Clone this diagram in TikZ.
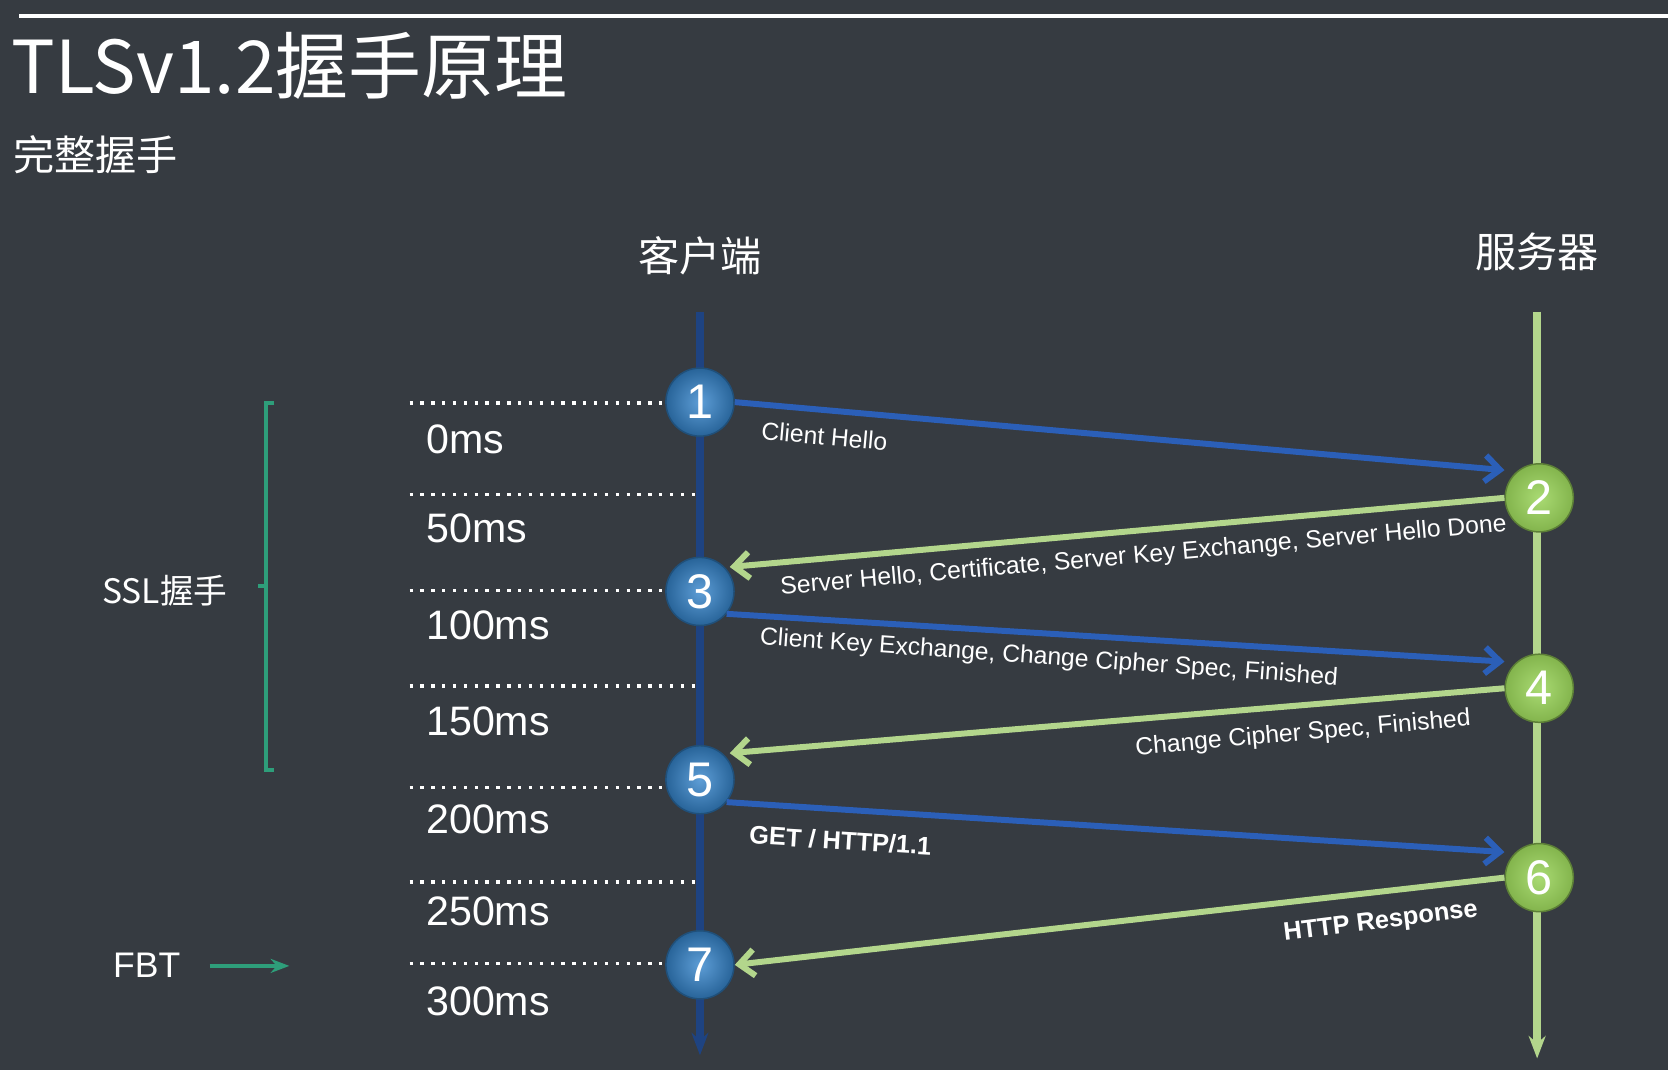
\documentclass[tikz,border=0pt]{standalone}
\usepackage{fontspec}
\setmainfont{Liberation Sans}
\newfontfamily\cjk{Noto Sans CJK SC}
\usetikzlibrary{arrows.meta,shadings}
\definecolor{bg}{HTML}{363B41}
\definecolor{cblue}{HTML}{2B5FB8}
\definecolor{cgreen}{HTML}{B3D68C}
\definecolor{teal}{HTML}{2E9E7A}
\definecolor{bball}{HTML}{3585CC}
\definecolor{gball}{HTML}{9AD45A}
\tikzset{
 x=0.01cm,y=-0.01cm,
 bnode/.style={circle,minimum size=0.64cm,inner sep=0pt,text=white,font=\fontsize{13}{13}\selectfont,inner color=bball!80!white,outer color=bball!75!black,draw=bball!60!black,line width=0.4pt},
 gnode/.style={circle,minimum size=0.64cm,inner sep=0pt,text=white,font=\fontsize{13}{13}\selectfont,inner color=gball!85!white,outer color=gball!85!black,draw=gball!60!black,line width=0.4pt},
 barrow/.style={cblue,line width=1.6pt,-{Straight Barb[length=4pt,width=7pt]}},
 garrow/.style={cgreen,line width=1.6pt,-{Straight Barb[length=4pt,width=7pt]}},
 lbl/.style={text=white,font=\fontsize{6.6}{7}\selectfont,inner sep=0pt},
 tl/.style={text=white,font=\fontsize{11}{11}\selectfont,anchor=west,inner sep=0pt},
 dots/.style={white,dotted,line width=0.9pt},
}
\begin{document}
\begin{tikzpicture}
\fill[bg] (0,0) rectangle (1568,1006);
\useasboundingbox (0,0) rectangle (1568,1006);
\draw[white,line width=1pt] (18,15) -- (1568,15);
\node[anchor=west,text=white,inner sep=0pt,font=\cjk\fontsize{19.5}{20}\selectfont] (title) at (10,62) {TLSv1.2握手原理};
\node[anchor=west,text=white,inner sep=0pt,font=\cjk\fontsize{11}{11}\selectfont] (sub) at (12,145) {完整握手};
\node[text=white,font=\cjk\fontsize{11}{11}\selectfont] (cl) at (658,240) {客户端};
\node[text=white,font=\cjk\fontsize{11}{11}\selectfont] (sv) at (1445,237) {服务器};
\coordinate (ct) at (658,293); \coordinate (cb) at (658,992);
\coordinate (st) at (1445,293); \coordinate (sb) at (1445,995);
\draw[cblue!70!black,line width=2pt,-{Stealth[length=6pt]}] (ct) -- (cb);
\draw[cgreen,line width=2pt,-{Stealth[length=6pt]}] (st) -- (sb);
\foreach \y/\xe/\t/\ty in {379/625/0ms/413,465/660/50ms/497,555/625/100ms/588,645/660/150ms/678,740/625/200ms/770,829/660/250ms/857,906/625/300ms/941}{
  \draw[dots] (385,\y) -- (\xe,\y);
  \node[tl] at (400,\ty) {\t};
}
\node[bnode] (n1) at (658,378) {1};
\node[gnode] (n2) at (1447,468) {2};
\node[bnode] (n3) at (658,556) {3};
\node[gnode] (n4) at (1447,647) {4};
\node[bnode] (n5) at (658,733) {5};
\node[gnode] (n6) at (1447,825) {6};
\node[bnode] (n7) at (658,907) {7};
\draw[barrow] (n1.east) -- (n2.west |- 0,442);
\draw[garrow] (n2.west) -- (686,533);
\draw[barrow] (n3.-40) -- (n4.west |- 0,622);
\draw[garrow] (n4.west) -- (686,708);
\draw[barrow] (n5.-40) -- (n6.west |- 0,801);
\draw[garrow] (n6.west) -- (n7.east);
\node[lbl,rotate=-5] at (775,410) {Client Hello};
\node[lbl,rotate=5] at (1075,523) {Server Hello, Certificate, Server Key Exchange, Server Hello Done};
\node[lbl,rotate=-4] at (986,619) {Client Key Exchange, Change Cipher Spec, Finished};
\node[lbl,rotate=5] at (1225,690) {Change Cipher Spec, Finished};
\node[lbl,rotate=-3.5,font=\bfseries\fontsize{6.8}{7}\selectfont] at (790,790) {GET / HTTP/1.1};
\node[lbl,rotate=7,font=\bfseries\fontsize{6.8}{7}\selectfont] at (1298,867) {HTTP Response};
\draw[teal,line width=0.9pt] (258,379) -- (250,379) -- (250,724) -- (258,724) (250,551) -- (243,551);
\node[text=white,font=\cjk\fontsize{9}{9}\selectfont] (ssl) at (155,555) {SSL握手};
\node[text=white,font=\fontsize{9.5}{9.5}\selectfont] (fbt) at (138,907) {FBT};
\draw[teal,line width=0.9pt,-{Stealth[length=5pt]}] (197,908) -- (272,908);
\end{tikzpicture}
\end{document}
